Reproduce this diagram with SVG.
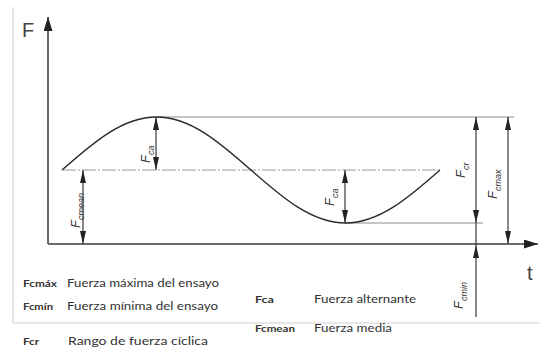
<svg xmlns="http://www.w3.org/2000/svg" width="540" height="347" viewBox="0 0 540 347">
<style>
.frame{stroke:#cfcfcf;stroke-width:1;fill:none}
.axis{stroke:#6a6a6a;stroke-width:2;fill:none}
.ref{stroke:#8a8a8a;stroke-width:1;fill:none}
.mean{stroke:#9a9a9a;stroke-width:1.2;fill:none;stroke-dasharray:14 2 2 2}
.curve{stroke:#2a2a2a;stroke-width:1.4;fill:none}
.dim{stroke:#3a3a3a;stroke-width:1.2;fill:none}
.sym{font-family:"Liberation Sans",Arial,sans-serif;font-style:italic;font-size:13px;fill:#333}
.sub{font-size:9px}
.leg{font-family:Lato,"Liberation Sans",sans-serif;font-size:12px;fill:#333}
.key{font-family:Lato,"Liberation Sans",sans-serif;font-size:10px;font-weight:bold;fill:#333}
.ax{font-family:"Liberation Sans",Arial,sans-serif;font-size:20px;fill:#444}
</style>
<defs>
<marker id="ah" viewBox="0 0 13 6" refX="13" refY="3" markerWidth="13" markerHeight="6" markerUnits="userSpaceOnUse" orient="auto-start-reverse">
<path d="M0,0 L13,3 L0,6 z" fill="#222"/>
</marker>
<marker id="axh" viewBox="0 0 14 9" refX="14" refY="4.5" markerWidth="14" markerHeight="9" markerUnits="userSpaceOnUse" orient="auto">
<path d="M0,0 L14,4.5 L0,9 z" fill="#222"/>
</marker>
</defs>
<rect width="540" height="347" fill="#fff"/>
<g id="frame">
<path class="frame" d="M13,7 V323 H540"/>
</g>
<g id="axes">
<path class="axis" d="M48,244 V17" marker-end="url(#axh)"/>
<path class="axis" d="M48,244 H538" marker-end="url(#axh)"/>
<text class="ax" x="22" y="37">F</text>
<text class="ax" x="527" y="280">t</text>
</g>
<g id="reference-lines">
<path class="ref" d="M156,117 H514"/>
<path class="ref" d="M345,223 H483"/>
<path class="mean" d="M62,170 H440"/>
</g>
<g id="curve">
<path class="curve" d="M62,170 C93.59,142.17 122.66,117 156.5,117 C190.34,117 219.41,142.17 251,170 C282.59,197.830 311.66,223 345.5,223 C379.34,223 408.41,197.83 440,170"/>
</g>
<g id="connectors">
<path class="dim" d="M156,117 V170" marker-start="url(#ah)" marker-end="url(#ah)"/>
<path class="dim" d="M345,170 V223" marker-start="url(#ah)" marker-end="url(#ah)"/>
<path class="dim" d="M83,170 V244" marker-start="url(#ah)" marker-end="url(#ah)"/>
<path class="dim" d="M476,117 V223" marker-start="url(#ah)" marker-end="url(#ah)"/>
<path class="dim" d="M476,223 V245"/>
<path class="dim" d="M476,317 V245" marker-end="url(#ah)"/>
<path class="dim" d="M508,117 V244" marker-start="url(#ah)" marker-end="url(#ah)"/>
</g>
<g id="label-fca-1">
<text class="sym" transform="translate(150,163) rotate(-90)">F<tspan class="sub" dy="4">ca</tspan></text>
</g>
<g id="label-fca-2">
<text class="sym" transform="translate(334,206) rotate(-90)">F<tspan class="sub" dy="4">ca</tspan></text>
</g>
<g id="label-fcmean">
<text class="sym" transform="translate(80,228) rotate(-90)">F<tspan class="sub" dy="4">cmean</tspan></text>
</g>
<g id="label-fcr">
<text class="sym" transform="translate(465,178) rotate(-90)">F<tspan class="sub" dy="4">cr</tspan></text>
</g>
<g id="label-fcmax">
<text class="sym" transform="translate(497,199) rotate(-90)">F<tspan class="sub" dy="4">cmax</tspan></text>
</g>
<g id="label-fcmin">
<text class="sym" transform="translate(463,309) rotate(-90)">F<tspan class="sub" dy="4">cmin</tspan></text>
</g>
<g id="legend">
<text class="key" x="23" y="287" textLength="34" lengthAdjust="spacingAndGlyphs">Fcmáx</text>
<text class="leg" x="67" y="287" textLength="152" lengthAdjust="spacingAndGlyphs">Fuerza máxima del ensayo</text>
<text class="key" x="23" y="310" textLength="30" lengthAdjust="spacingAndGlyphs">Fcmín</text>
<text class="leg" x="67" y="310" textLength="151" lengthAdjust="spacingAndGlyphs">Fuerza mínima del ensayo</text>
<text class="key" x="23" y="345" textLength="16" lengthAdjust="spacingAndGlyphs">Fcr</text>
<text class="leg" x="68" y="345" textLength="140" lengthAdjust="spacingAndGlyphs">Rango de fuerza cíclica</text>
<text class="key" x="255" y="303" textLength="19" lengthAdjust="spacingAndGlyphs">Fca</text>
<text class="leg" x="314" y="303" textLength="102" lengthAdjust="spacingAndGlyphs">Fuerza alternante</text>
<text class="key" x="255" y="332" textLength="40" lengthAdjust="spacingAndGlyphs">Fcmean</text>
<text class="leg" x="314" y="332" textLength="78" lengthAdjust="spacingAndGlyphs">Fuerza media</text>
</g>
</svg>
